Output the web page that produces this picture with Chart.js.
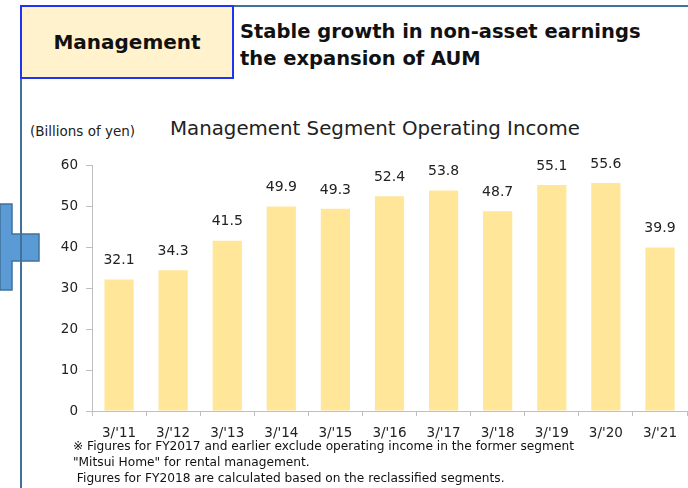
<!DOCTYPE html>
<html>
<head>
<meta charset="utf-8">
<script src="https://cdn.jsdelivr.net/npm/chart.js@4"></script>
<style>
  body { margin: 0; width: 688px; height: 488px; background: #fff; overflow: hidden; font-family: "DejaVu Sans", Verdana, sans-serif; }
  #wrap { position: relative; width: 688px; height: 488px; }
  .abs { position: absolute; }
  #vline { left: 20px; top: 5px; width: 2px; height: 483px; background: #41719c; }
  #hline { left: 20px; top: 5px; width: 668px; height: 2px; background: #41719c; }
  #box { left: 20px; top: 5px; width: 210px; height: 70px; background: #fff2cc; border: 2px solid #1f34f0;
         font: bold 20px "DejaVu Sans", sans-serif; color: #111; text-align: center; line-height: 70px; }
  #head { left: 240px; top: 18px; font: bold 19.5px "DejaVu Sans", sans-serif; color: #111; line-height: 27px; }
  #unit { left: 30px; top: 123px; font: 13.5px "DejaVu Sans", sans-serif; color: #222; }
  #title { left: 170px; top: 117px; font: 19.8px "DejaVu Sans", sans-serif; color: #222; }
  #note { left: 73px; top: 438px; font: 12.2px "DejaVu Sans", sans-serif; color: #111; line-height: 16px; white-space: pre; }
  #c { position: absolute; left: 0; top: 0; }
</style>
</head>
<body>
<div id="wrap">
  <svg class="abs" style="left:0;top:0" width="60" height="300">
    <polygon points="0,204 12,204 12,234 39,234 39,261 12,261 12,290 0,290" fill="#5b9bd5" stroke="#41719c" stroke-width="1.5"/>
  </svg>
  <div class="abs" id="vline"></div>
  <div class="abs" id="hline"></div>
  <div class="abs" id="box">Management</div>
  <div class="abs" id="head">Stable growth in non-asset earnings<br>the expansion of AUM</div>
  <div class="abs" id="unit">(Billions of yen)</div>
  <div class="abs" id="title">Management Segment Operating Income</div>
  <canvas id="c" width="688" height="488"></canvas>
  <div class="abs" id="note">※ Figures for FY2017 and earlier exclude operating income in the former segment
"Mitsui Home" for rental management.
 Figures for FY2018 are calculated based on the reclassified segments.</div>
</div>
<script>
// fiscal years (March year-end)
var years = ["3/'11", "3/'12", "3/'13", "3/'14", "3/'15", "3/'16", "3/'17", "3/'18", "3/'19", "3/'20", "3/'21"];
var income = [32.1, 34.3, 41.5, 49.9, 49.3, 52.4, 53.8, 48.7, 55.1, 55.6, 39.9];
var yTicks = [0, 10, 20, 30, 40, 50, 60];

var tickFont = { family: "DejaVu Sans, sans-serif", size: 13.5 };

// value labels above each bar
var valueLabels = {
  id: 'valueLabels',
  afterDatasetsDraw: function(chart) {
    var ctx = chart.ctx;
    var meta = chart.getDatasetMeta(0);
    ctx.save();
    ctx.font = "14px 'DejaVu Sans', sans-serif";
    ctx.fillStyle = '#222';
    ctx.textAlign = 'center';
    ctx.textBaseline = 'middle';
    meta.data.forEach(function(bar, i) {
      ctx.fillText(income[i].toFixed(1), bar.x, bar.y - 19);
    });
    ctx.restore();
  }
};

var chartCanvas = document.getElementById('c');
var myChart = new Chart(chartCanvas, {
  type: 'bar',
  data: {
    labels: years,
    datasets: [{
      data: income,
      backgroundColor: '#ffe699',
      borderWidth: 0,
      barPercentage: 0.54,
      categoryPercentage: 1
    }]
  },
  options: {
    responsive: false,
    animation: false,
    layout: { padding: { top: 165, right: 1, left: 0, bottom: 0 } },
    plugins: { legend: { display: false }, tooltip: { enabled: false } },
    scales: {
      x: {
        grid: { offset: true, drawOnChartArea: false, color: '#bfbfbf', tickLength: 5 },
        border: { color: '#bfbfbf' },
        ticks: { font: tickFont, color: '#222', padding: 9, maxRotation: 0 },
        afterFit: function(scale) { scale.height = 77; }
      },
      y: {
        min: 0,
        max: 60,
        grid: { drawOnChartArea: false, color: '#bfbfbf', tickLength: 6 },
        border: { color: '#bfbfbf' },
        afterBuildTicks: function(scale) { scale.ticks = yTicks.map(function(v) { return { value: v }; }); },
        ticks: { font: tickFont, color: '#222', padding: 8 },
        afterFit: function(scale) { scale.width = 92; }
      }
    }
  },
  plugins: [valueLabels]
});
</script>
</body>
</html>
